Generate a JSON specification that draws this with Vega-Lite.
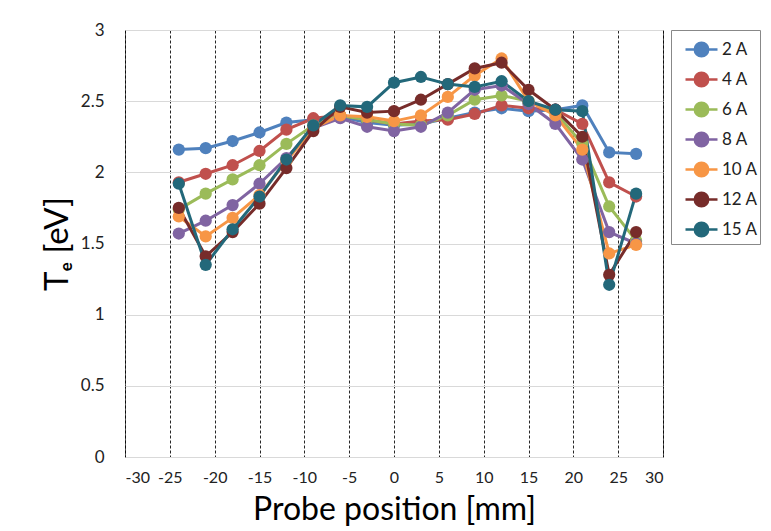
{
  "$schema": "https://vega.github.io/schema/vega-lite/v6.json",
  "width": 538,
  "height": 427,
  "autosize": {"type": "none"},
  "padding": {"left": 125, "top": 30, "right": 108, "bottom": 74},
  "background": "white",
  "config": {
    "view": {"stroke": "#595959", "strokeWidth": 1},
    "font": "Lato"
  },
  "datasets": {
    "te": [
      {"series": "2 A", "position": -24, "te": 2.16}, {"series": "2 A", "position": -21, "te": 2.17}, {"series": "2 A", "position": -18, "te": 2.22}, {"series": "2 A", "position": -15, "te": 2.28}, {"series": "2 A", "position": -12, "te": 2.35}, {"series": "2 A", "position": -9, "te": 2.37}, {"series": "2 A", "position": -6, "te": 2.39}, {"series": "2 A", "position": -3, "te": 2.35}, {"series": "2 A", "position": 0, "te": 2.33}, {"series": "2 A", "position": 3, "te": 2.34}, {"series": "2 A", "position": 6, "te": 2.38}, {"series": "2 A", "position": 9, "te": 2.42}, {"series": "2 A", "position": 12, "te": 2.45}, {"series": "2 A", "position": 15, "te": 2.43}, {"series": "2 A", "position": 18, "te": 2.44}, {"series": "2 A", "position": 21, "te": 2.47}, {"series": "2 A", "position": 24, "te": 2.14}, {"series": "2 A", "position": 27, "te": 2.13},
      {"series": "4 A", "position": -24, "te": 1.93}, {"series": "4 A", "position": -21, "te": 1.99}, {"series": "4 A", "position": -18, "te": 2.05}, {"series": "4 A", "position": -15, "te": 2.15}, {"series": "4 A", "position": -12, "te": 2.30}, {"series": "4 A", "position": -9, "te": 2.38}, {"series": "4 A", "position": -6, "te": 2.40}, {"series": "4 A", "position": -3, "te": 2.37}, {"series": "4 A", "position": 0, "te": 2.34}, {"series": "4 A", "position": 3, "te": 2.36}, {"series": "4 A", "position": 6, "te": 2.37}, {"series": "4 A", "position": 9, "te": 2.41}, {"series": "4 A", "position": 12, "te": 2.47}, {"series": "4 A", "position": 15, "te": 2.45}, {"series": "4 A", "position": 18, "te": 2.44}, {"series": "4 A", "position": 21, "te": 2.34}, {"series": "4 A", "position": 24, "te": 1.93}, {"series": "4 A", "position": 27, "te": 1.83},
      {"series": "6 A", "position": -24, "te": 1.74}, {"series": "6 A", "position": -21, "te": 1.85}, {"series": "6 A", "position": -18, "te": 1.95}, {"series": "6 A", "position": -15, "te": 2.05}, {"series": "6 A", "position": -12, "te": 2.20}, {"series": "6 A", "position": -9, "te": 2.33}, {"series": "6 A", "position": -6, "te": 2.40}, {"series": "6 A", "position": -3, "te": 2.37}, {"series": "6 A", "position": 0, "te": 2.34}, {"series": "6 A", "position": 3, "te": 2.33}, {"series": "6 A", "position": 6, "te": 2.40}, {"series": "6 A", "position": 9, "te": 2.51}, {"series": "6 A", "position": 12, "te": 2.54}, {"series": "6 A", "position": 15, "te": 2.50}, {"series": "6 A", "position": 18, "te": 2.42}, {"series": "6 A", "position": 21, "te": 2.20}, {"series": "6 A", "position": 24, "te": 1.76}, {"series": "6 A", "position": 27, "te": 1.52},
      {"series": "8 A", "position": -24, "te": 1.57}, {"series": "8 A", "position": -21, "te": 1.66}, {"series": "8 A", "position": -18, "te": 1.77}, {"series": "8 A", "position": -15, "te": 1.92}, {"series": "8 A", "position": -12, "te": 2.10}, {"series": "8 A", "position": -9, "te": 2.31}, {"series": "8 A", "position": -6, "te": 2.38}, {"series": "8 A", "position": -3, "te": 2.32}, {"series": "8 A", "position": 0, "te": 2.29}, {"series": "8 A", "position": 3, "te": 2.32}, {"series": "8 A", "position": 6, "te": 2.42}, {"series": "8 A", "position": 9, "te": 2.58}, {"series": "8 A", "position": 12, "te": 2.61}, {"series": "8 A", "position": 15, "te": 2.48}, {"series": "8 A", "position": 18, "te": 2.34}, {"series": "8 A", "position": 21, "te": 2.09}, {"series": "8 A", "position": 24, "te": 1.58}, {"series": "8 A", "position": 27, "te": 1.50},
      {"series": "10 A", "position": -24, "te": 1.69}, {"series": "10 A", "position": -21, "te": 1.55}, {"series": "10 A", "position": -18, "te": 1.68}, {"series": "10 A", "position": -15, "te": 1.84}, {"series": "10 A", "position": -12, "te": 2.08}, {"series": "10 A", "position": -9, "te": 2.31}, {"series": "10 A", "position": -6, "te": 2.40}, {"series": "10 A", "position": -3, "te": 2.39}, {"series": "10 A", "position": 0, "te": 2.36}, {"series": "10 A", "position": 3, "te": 2.40}, {"series": "10 A", "position": 6, "te": 2.53}, {"series": "10 A", "position": 9, "te": 2.68}, {"series": "10 A", "position": 12, "te": 2.80}, {"series": "10 A", "position": 15, "te": 2.50}, {"series": "10 A", "position": 18, "te": 2.40}, {"series": "10 A", "position": 21, "te": 2.16}, {"series": "10 A", "position": 24, "te": 1.43}, {"series": "10 A", "position": 27, "te": 1.49},
      {"series": "12 A", "position": -24, "te": 1.75}, {"series": "12 A", "position": -21, "te": 1.41}, {"series": "12 A", "position": -18, "te": 1.58}, {"series": "12 A", "position": -15, "te": 1.78}, {"series": "12 A", "position": -12, "te": 2.03}, {"series": "12 A", "position": -9, "te": 2.29}, {"series": "12 A", "position": -6, "te": 2.46}, {"series": "12 A", "position": -3, "te": 2.42}, {"series": "12 A", "position": 0, "te": 2.43}, {"series": "12 A", "position": 3, "te": 2.51}, {"series": "12 A", "position": 6, "te": 2.62}, {"series": "12 A", "position": 9, "te": 2.73}, {"series": "12 A", "position": 12, "te": 2.77}, {"series": "12 A", "position": 15, "te": 2.58}, {"series": "12 A", "position": 18, "te": 2.44}, {"series": "12 A", "position": 21, "te": 2.25}, {"series": "12 A", "position": 24, "te": 1.28}, {"series": "12 A", "position": 27, "te": 1.58},
      {"series": "15 A", "position": -24, "te": 1.92}, {"series": "15 A", "position": -21, "te": 1.35}, {"series": "15 A", "position": -18, "te": 1.60}, {"series": "15 A", "position": -15, "te": 1.83}, {"series": "15 A", "position": -12, "te": 2.09}, {"series": "15 A", "position": -9, "te": 2.33}, {"series": "15 A", "position": -6, "te": 2.47}, {"series": "15 A", "position": -3, "te": 2.46}, {"series": "15 A", "position": 0, "te": 2.63}, {"series": "15 A", "position": 3, "te": 2.67}, {"series": "15 A", "position": 6, "te": 2.62}, {"series": "15 A", "position": 9, "te": 2.60}, {"series": "15 A", "position": 12, "te": 2.64}, {"series": "15 A", "position": 15, "te": 2.50}, {"series": "15 A", "position": 18, "te": 2.44}, {"series": "15 A", "position": 21, "te": 2.43}, {"series": "15 A", "position": 24, "te": 1.21}, {"series": "15 A", "position": 27, "te": 1.85}
    ]
  },
  "data": {"name": "te"},
  "encoding": {
    "x": {
      "field": "position",
      "type": "quantitative",
      "scale": {"domain": [-30, 30], "nice": false, "zero": false},
      "axis": {
        "values": [-30, -25, -20, -15, -10, -5, 0, 5, 10, 15, 20, 25, 30],
        "labelExpr": "'' + datum.value",
        "title": "Probe position [mm]",
        "titleFontSize": 32,
        "titleFontWeight": "normal",
        "titleColor": "#000000",
        "titlePadding": 9,
        "labelFontSize": 16,
        "labelColor": "#222222",
        "labelPadding": 12,
        "labelOverlap": false,
        "ticks": false,
        "domain": false,
        "grid": true,
        "gridColor": "#000000",
        "gridOpacity": 0.85,
        "gridDash": [3, 2],
        "gridWidth": 1
      }
    },
    "y": {
      "field": "te",
      "type": "quantitative",
      "scale": {"domain": [0, 3], "nice": false},
      "axis": {
        "values": [0, 0.5, 1, 1.5, 2, 2.5, 3],
        "format": "~g",
        "title": "Tₑ [eV]",
        "titleFontSize": 33,
        "titleFontWeight": "normal",
        "titleColor": "#000000",
        "titlePadding": 6,
        "labelFontSize": 17,
        "labelColor": "#222222",
        "labelPadding": 21,
        "ticks": false,
        "domain": false,
        "grid": true,
        "gridColor": "#D9D9D9",
        "gridWidth": 1
      }
    },
    "color": {
      "field": "series",
      "type": "nominal",
      "scale": {
        "domain": ["2 A", "4 A", "6 A", "8 A", "10 A", "12 A", "15 A"],
        "range": ["#4F81BD", "#C0504D", "#9BBB59", "#8064A2", "#F79646", "#772C2A", "#23687A"]
      },
      "legend": {
        "title": null,
        "orient": "none",
        "legendX": 546,
        "legendY": 0,
        "padding": 2,
        "strokeColor": "#888888",
        "fillColor": "#FFFFFF",
        "labelFontSize": 17,
        "labelColor": "#222222",
        "labelOffset": 3,
        "labelExpr": "datum.label + '\u00a0\u00a0\u00a0'",
        "symbolOffset": 11,
        "symbolType": "M-1,0L1,0M-0.42,0A0.42,0.42,0,1,1,0.42,0A0.42,0.42,0,1,1,-0.42,0Z",
        "symbolSize": 1024,
        "symbolStrokeWidth": 2.5,
        "symbolOpacity": 1,
        "rowPadding": 0,
        "encode": {
          "symbols": {
            "update": {
              "fill": {"scale": "color", "field": "value"},
              "stroke": {"scale": "color", "field": "value"},
              "opacity": {"value": 1}
            }
          }
        }
      }
    }
  },
  "layer": [
    {
      "mark": {"type": "line", "strokeWidth": 3}
    },
    {
      "mark": {"type": "point", "filled": true, "size": 150, "opacity": 1}
    }
  ]
}
